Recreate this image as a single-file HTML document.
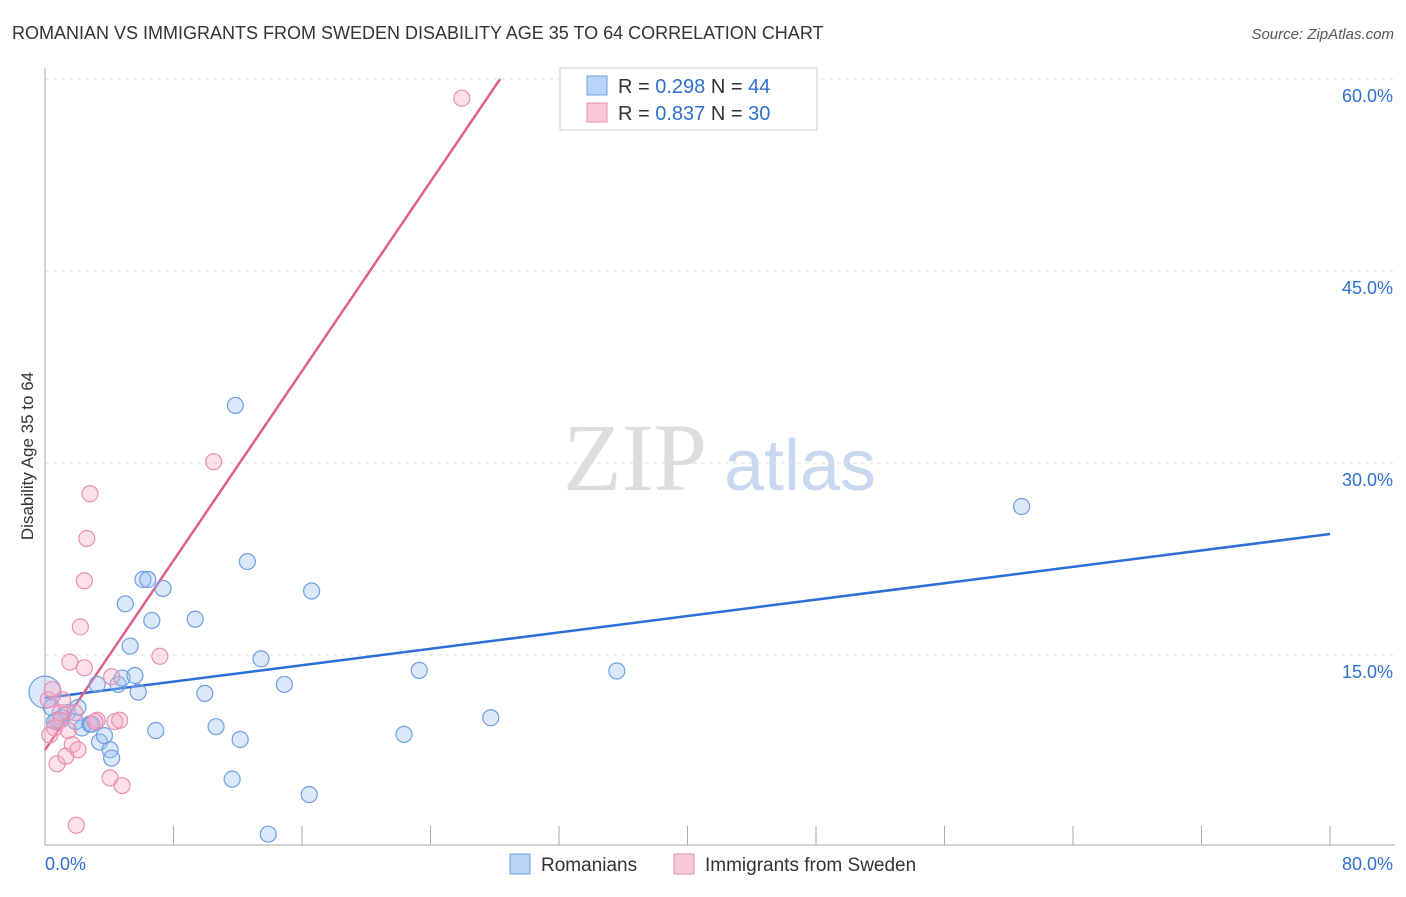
<!DOCTYPE html>
<html><head><meta charset="utf-8"><style>
body{margin:0;background:#fff;font-family:"Liberation Sans",sans-serif;}
</style></head><body>
<svg width="1406" height="892" xmlns="http://www.w3.org/2000/svg" font-family="Liberation Sans, sans-serif">
<text x="12" y="39" font-size="18" fill="#333">ROMANIAN VS IMMIGRANTS FROM SWEDEN DISABILITY AGE 35 TO 64 CORRELATION CHART</text>
<text x="1394" y="39" font-size="15" fill="#555" text-anchor="end" font-style="italic">Source: ZipAtlas.com</text>
<g>
<text x="635" y="490" font-size="96" fill="#ddd" text-anchor="middle" font-family="Liberation Serif, serif">ZIP</text>
<text x="800" y="490" font-size="72" fill="#c8d8f0" text-anchor="middle">atlas</text></g>
<g id="grid"></g><g id="axes"></g><g id="lines"></g><g id="pts"></g>
<text transform="translate(33,456) rotate(-90)" font-size="17" fill="#333" text-anchor="middle">Disability Age 35 to 64</text>
<g>
<rect x="560" y="68" width="257" height="62" fill="#fff" stroke="#ccc"/>
<rect x="587" y="76" width="20" height="19" fill="#b8d4f6" stroke="#6f9fe0"/>
<rect x="587" y="103" width="20" height="19" fill="#f9c8d8" stroke="#e890b0"/>
<text x="618" y="93" font-size="20" fill="#333">R = <tspan fill="#2f6fd0">0.298</tspan>   N = <tspan fill="#2f6fd0">44</tspan></text>
<text x="618" y="120" font-size="20" fill="#333">R = <tspan fill="#2f6fd0">0.837</tspan>   N = <tspan fill="#2f6fd0">30</tspan></text></g>
<g>
<rect x="510" y="854" width="20" height="20" fill="#b8d4f6" stroke="#6f9fe0"/>
<text x="541" y="871" font-size="19" fill="#333">Romanians</text>
<rect x="674" y="854" width="20" height="20" fill="#f9c8d8" stroke="#e890b0"/>
<text x="705" y="871" font-size="19" fill="#333">Immigrants from Sweden</text></g>
</svg>
<script>
const yTicks=[15,30,45,60];
const xTickLabels=["0.0%","80.0%"];
const blueX=[0,0.4,0.75,1.05,1.4,1.9,2.05,2.3,2.8,2.9,3.25,3.4,3.7,4.05,4.15,4.55,4.8,5.0,5.3,5.6,5.8,6.1,6.4,6.65,6.9,7.35,9.35,9.95,10.65,11.65,11.85,12.15,12.6,13.45,13.9,14.9,16.45,16.6,22.35,23.3,27.75,35.6,60.8,0.6];
const blueY=[12.1,10.9,9.9,10.1,10.5,9.8,10.9,9.3,9.6,9.6,12.7,8.2,8.7,7.6,6.95,12.7,13.2,19.0,15.7,13.4,12.1,20.9,20.9,17.7,9.1,20.2,17.8,12.0,9.4,5.3,34.5,8.4,22.3,14.7,1.0,12.7,4.1,20.0,8.8,13.8,10.1,13.75,26.6,9.8];
const pinkX=[0.2,0.3,0.6,0.75,0.95,1.1,1.3,1.55,1.7,1.85,2.05,2.2,2.45,2.45,2.6,2.8,3.25,4.05,4.15,4.35,4.65,4.8,7.15,10.5,25.95,1.95,0.95,0.45,1.45,3.1];
const pinkY=[11.5,8.75,9.3,6.5,10.5,11.5,7.1,14.45,8.0,10.5,7.6,17.2,14.0,20.8,24.1,27.6,9.9,5.4,13.3,9.8,9.9,4.8,14.9,30.1,58.5,1.7,9.9,12.3,9.1,9.8];
const blueLine=[11.64,24.45]; // y at x=0 and x=80
const pinkLine=[7.58,1.85];   // intercept, slope
const NS="http://www.w3.org/2000/svg";
const X=v=>45+v/80*1285, Y=v=>847-v/15*192;
function mk(p,t,a){const e=document.createElementNS(NS,t);for(const k in a)e.setAttribute(k,a[k]);document.getElementById(p).appendChild(e);return e;}
yTicks.forEach(t=>{
 const l=mk('grid','line',{x1:45,x2:1395,y1:Y(t),y2:Y(t),stroke:'#ddd','stroke-dasharray':'4,4'});
 
 
 const tx=mk('grid','text',{x:1393,y:Y(t)+23,'font-size':18,fill:'#2f6fd0','text-anchor':'end'});tx.textContent=t.toFixed(1)+'%';
 
 
});
mk('axes','line',{x1:45,x2:45,y1:68,y2:845,stroke:'#aaa'});
mk('axes','line',{x1:45,x2:1395,y1:845,y2:845,stroke:'#aaa'});
for(let i=0;i<=10;i++){mk('axes','line',{x1:X(i*8),x2:X(i*8),y1:826,y2:845,stroke:'#aaa'});}
const xl0=mk('axes','text',{x:45,y:870,'font-size':18,fill:'#2f6fd0'});xl0.textContent=xTickLabels[0];


const xl1=mk('axes','text',{x:1393,y:870,'font-size':18,fill:'#2f6fd0','text-anchor':'end'});xl1.textContent=xTickLabels[1];


const bl=mk('lines','line',{x1:X(0),y1:Y(blueLine[0]),x2:X(80),y2:Y(blueLine[1]),stroke:'#2a6fd6','stroke-width':2.5});


const px2=(60-pinkLine[0])/pinkLine[1];
const pl=mk('lines','line',{x1:X(0),y1:Y(pinkLine[0]),x2:X(px2),y2:Y(60),stroke:'#e0608c','stroke-width':2.5});


blueX.forEach((x,i)=>{const c=mk('pts','circle',{cx:X(x),cy:Y(blueY[i]),r:i==0?16:8,fill:'rgba(150,190,240,0.35)',stroke:'#6f9fe0','stroke-width':1.2});
 
 });
pinkX.forEach((x,i)=>{const c=mk('pts','circle',{cx:X(x),cy:Y(pinkY[i]),r:8,fill:'rgba(245,170,195,0.35)',stroke:'#e890b0','stroke-width':1.2});
 
 });
</script>
</body></html>
